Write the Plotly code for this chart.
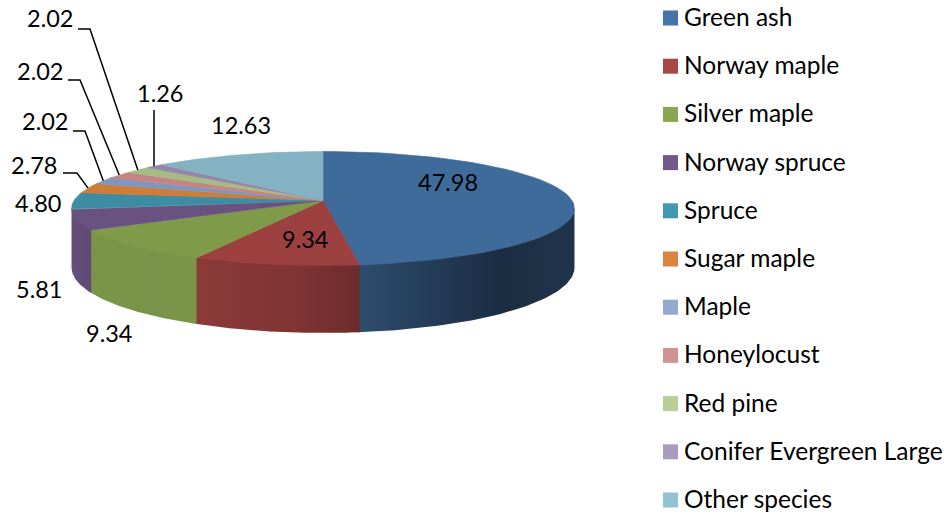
import numpy as np
import plotly.graph_objects as go

categories = ["Green ash", "Norway maple", "Silver maple", "Norway spruce", "Spruce", "Sugar maple",
              "Maple", "Honeylocust", "Red pine", "Conifer Evergreen Large", "Other species"]
values = [47.98, 9.34, 9.34, 5.81, 4.80, 2.78, 2.02, 2.02, 2.02, 1.26, 12.63]
value_labels = ["47.98", "9.34", "9.34", "5.81", "4.80", "2.78", "2.02", "2.02", "2.02", "1.26", "12.63"]
legend_colors = ["#4375a8", "#aa4644", "#8ba650", "#71588f", "#4198af", "#db843d",
                 "#93a9cf", "#d19392", "#b9cd96", "#a99bbd", "#92c3d5"]
top_colors = ["#3f6b9b", "#9c4140", "#7f9a48", "#6a5280", "#3d8ca3", "#ce7c36",
              "#8097bd", "#c38583", "#a6bb83", "#9585a9", "#84b2c3"]
wall_scales = {0: ["#2e4d6e", "#1b2d43", "#1f344b"], 1: ["#8c3a39", "#7d3433", "#6c2c2b"],
               2: ["#7a9446", "#79934a", "#7b9546"], 3: ["#664e7c", "#624b77", "#5f4a74"]}

CX, CY, A, B, K, DEPTH = 323, 200.5, 249, 55.9, 0.14, 58
FONT = "Lato"
FS = 23.5
LEGEND_FS = 24.5


def project(theta):
    u, v = np.sin(theta), np.cos(theta)
    s = 1 / (1 + K * v)
    return CX + A * u * s, CY - B * v * s, DEPTH * s


total = sum(values)
edges = np.concatenate([[0], np.cumsum(values)]) / total * 2 * np.pi
silhouette_r = np.arccos(-K)
silhouette_l = 2 * np.pi - silhouette_r

fig = go.Figure()

# side walls (front-facing part only); each overlaps the next by a hair so no seam shows
for i in range(len(values)):
    lo, hi = max(edges[i], silhouette_r), min(edges[i + 1] + 0.006, silhouette_l)
    if lo >= hi:
        continue
    t = np.linspace(lo, hi, 80)
    x, y, d = project(t)
    px = np.concatenate([x, x[::-1]])
    py = np.concatenate([y - 1.5, (y + d)[::-1]])
    stops = wall_scales.get(i, [top_colors[i]] * 3)
    fig.add_trace(go.Scatter(
        x=px, y=py, mode="lines", fill="toself", line=dict(width=0), showlegend=False, hoverinfo="skip",
        fillgradient=dict(type="horizontal", start=float(x.min()), stop=float(x.max()),
                          colorscale=[[0, stops[0]], [0.65, stops[1]], [1, stops[2]]])))

# top surface
for i in range(len(values)):
    t = np.linspace(edges[i], edges[i + 1], 60)
    x, y, _ = project(t)
    fig.add_trace(go.Scatter(
        x=np.concatenate([[CX], x, [CX]]), y=np.concatenate([[CY], y, [CY]]),
        mode="lines", fill="toself", fillcolor=top_colors[i], line=dict(width=0.6, color=top_colors[i]),
        showlegend=False, name=categories[i],
        text=f"{categories[i]}: {value_labels[i]}", hoverinfo="text"))

# leader lines: (slice index, elbow x, elbow y, label-side x)
leaders = [(5, 77, 173, 63), (6, 85, 131, 73), (7, 80, 80, 68), (8, 90, 29, 78), (9, 154, 110, 154)]
for idx, ex, ey, sx in leaders:
    mid = (edges[idx] + edges[idx + 1]) / 2
    rx, ry, _ = project(np.array([mid]))
    rim_x = float(rx[0]) if idx != 9 else ex
    fig.add_trace(go.Scatter(x=[sx, ex, rim_x], y=[ey, ey, float(ry[0])], mode="lines",
                             line=dict(color="#000000", width=1.5), showlegend=False, hoverinfo="skip"))

# legend: swatch column with the names beside it
LEG_X, LEG_Y0, LEG_STEP = 670.5, 18, 48.2
leg_y = [LEG_Y0 + i * LEG_STEP for i in range(len(categories))]
fig.add_trace(go.Scatter(x=[LEG_X] * len(categories), y=leg_y, mode="markers", showlegend=False,
                         marker=dict(symbol="square", size=15, color=legend_colors),
                         text=categories, hoverinfo="text"))
for name, yy in zip(categories, leg_y):
    fig.add_annotation(x=684, y=yy, text=name, showarrow=False, xanchor="left", yanchor="middle",
                       xshift=-2, yshift=1.5, font=dict(family=FONT, size=LEGEND_FS, color="#000000"))

# data labels
label_pos = [(448, 183), (305, 240), (109, 334), (39, 290), (38, 204), (34, 166),
             (45, 122), (39.5, 72), (49.5, 19), (160, 94), (240.5, 126)]
for txt, (lx, ly) in zip(value_labels, label_pos):
    fig.add_annotation(x=lx, y=ly, text=txt, showarrow=False, xanchor="center", yanchor="middle",
                       yshift=1, font=dict(family=FONT, size=FS, color="#000000"))

fig.update_layout(
    width=944, height=514, margin=dict(l=0, r=0, t=0, b=0), autosize=False,
    paper_bgcolor="white", plot_bgcolor="white", showlegend=False,
    xaxis=dict(range=[0, 944], visible=False, fixedrange=True),
    yaxis=dict(range=[514, 0], visible=False, fixedrange=True),
)
fig.write_html("out.html", config={"displayModeBar": False},
               post_script="document.body.style.margin='0';document.body.style.overflow='hidden';")
